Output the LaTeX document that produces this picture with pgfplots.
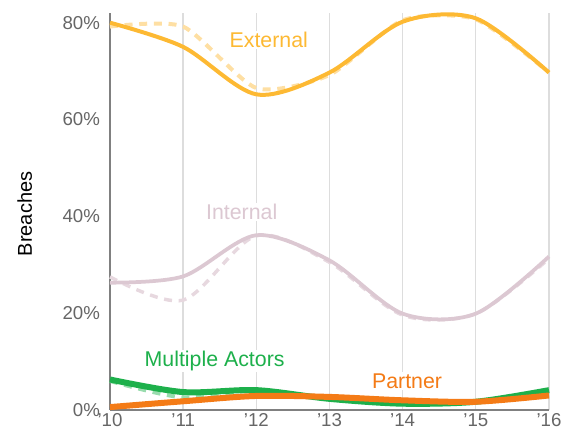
\documentclass[border=0pt]{standalone}
\usepackage{fontspec}
\setmainfont{Liberation Sans}
\usepackage{pgfplots}
\pgfplotsset{compat=1.18}

\definecolor{extcol}{HTML}{FDB933}
\definecolor{intcol}{HTML}{DCC8D2}
\definecolor{multcol}{HTML}{1DB04B}
\definecolor{partcol}{HTML}{F47B16}
\definecolor{gridcol}{HTML}{DDDDDD}
\definecolor{tickcol}{HTML}{666666}

\begin{document}
\begin{tikzpicture}
\useasboundingbox (-82.5pt,-18pt) rectangle (339pt,307.5pt);
\begin{axis}[
  scale only axis,
  width=329.25pt, height=297.75pt,
  xmin=2010, xmax=2016,
  ymin=0, ymax=82,
  axis x line*=bottom,
  axis y line*=left,
  axis line style={draw=black!50, line width=1pt},
  xtick={2010,2011,2012,2013,2014,2015,2016},
  xticklabels={'10,'11,'12,'13,'14,'15,'16},
  ytick={0,20,40,60,80},
  yticklabels={0\%,20\%,40\%,60\%,80\%},
  major tick length=0pt,
  xmajorgrids,
  grid style={draw=gridcol, line width=1pt},
  tick label style={font=\fontsize{14}{16}\selectfont, text=tickcol},
  xticklabel style={yshift=1pt},
  yticklabel style={xshift=-4pt},
  clip=false,
]
% labels (white fill hides grid lines behind them)
\node[fill=white, inner sep=1pt, text=extcol, font=\fontsize{16}{18}\selectfont] at (axis cs:2012.17,76.4) {External};
\node[fill=white, inner sep=1pt, text=intcol, font=\fontsize{16}{18}\selectfont] at (axis cs:2011.8,40.9) {Internal};
\node[fill=white, inner sep=1pt, text=multcol, font=\fontsize{16}{18}\selectfont] at (axis cs:2011.43,10.1) {Multiple Actors};
\node[fill=white, inner sep=1pt, text=partcol, font=\fontsize{16}{18}\selectfont] at (axis cs:2014.06,6.0) {Partner};

% dashed series
\addplot[extcol!45, line width=3pt, dash pattern=on 6pt off 5pt, smooth, tension=0.4] coordinates {
  (2010,79.2) (2011,79.2) (2012,66.5) (2013,69.2) (2014,80.5) (2015,80.7) (2016,69.7)
};
\addplot[intcol!70, line width=2.6pt, dash pattern=on 6pt off 5pt, smooth] coordinates {
  (2010,27.5) (2011,22.7) (2012,36.0) (2013,30.5) (2014,19.6) (2015,19.9) (2016,31.3)
};
\addplot[multcol!45, line width=3pt, dash pattern=on 6pt off 5pt, smooth] coordinates {
  (2010,6.0) (2011,2.6) (2012,4.0) (2013,2.2) (2014,1.3) (2015,1.7) (2016,4.0)
};

% solid series
\addplot[extcol, line width=3pt, smooth] coordinates {
  (2010,80.0) (2011,75.0) (2012,65.2) (2013,69.7) (2014,80.2) (2015,80.9) (2016,69.7)
};
\addplot[intcol, line width=2.8pt, smooth] coordinates {
  (2010,26.3) (2011,27.6) (2012,36.1) (2013,30.9) (2014,19.9) (2015,19.9) (2016,31.7)
};
\addplot[multcol, line width=4.5pt, smooth] coordinates {
  (2010,6.3) (2011,3.7) (2012,4.1) (2013,2.3) (2014,1.3) (2015,1.7) (2016,4.1)
};
\addplot[partcol, line width=4.5pt, smooth] coordinates {
  (2010,0.6) (2011,1.8) (2012,2.9) (2013,2.7) (2014,2.0) (2015,1.7) (2016,3.0)
};
\end{axis}
\node[rotate=90, font=\fontsize{15}{17}\selectfont] at (-64pt,147pt) {Breaches};
\end{tikzpicture}
\end{document}
